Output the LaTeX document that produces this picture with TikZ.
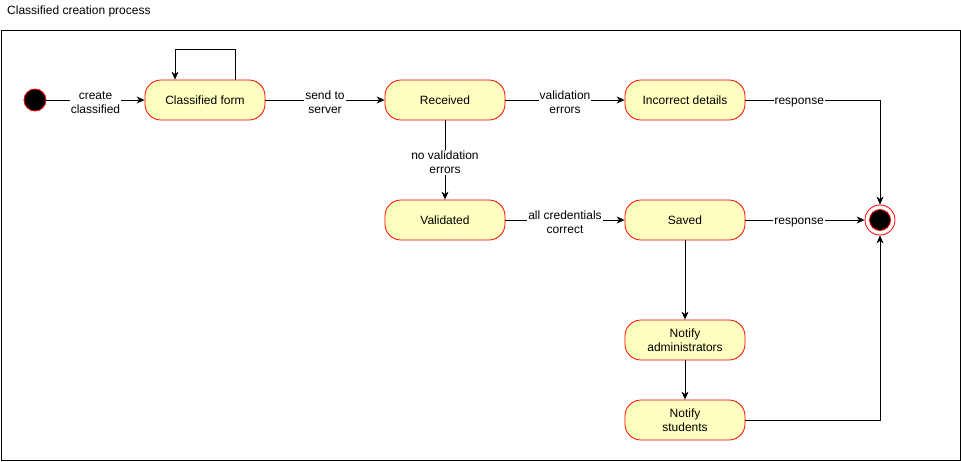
\documentclass[tikz,border=0pt]{standalone}
\usepackage{fontspec}
\setmainfont{Liberation Sans}
\usetikzlibrary{arrows.meta}
\definecolor{stfill}{HTML}{FFFFC0}
\definecolor{stline}{HTML}{FF0000}
\begin{document}
\begin{tikzpicture}[x=1pt,y=-1pt,
  state/.style={draw=stline,fill=stfill,rounded corners=16pt,minimum width=120pt,minimum height=40pt,
    inner sep=0pt,align=center,font=\fontsize{12}{14}\selectfont,line width=0.8pt},
  flow/.style={line width=0.8pt,-{Stealth[length=8pt,width=7pt,inset=2.5pt]}},
  lbl/.style={fill=white,inner sep=1pt,align=center,font=\fontsize{12}{14}\selectfont,yshift=-2.5pt}]
\useasboundingbox (0,0) rectangle (961,461);
% title and frame
\node[anchor=west,font=\fontsize{12}{14}\selectfont,inner sep=0pt] (title) at (7,11) {Classified creation process};
\draw[line width=0.8pt] (1,30) rectangle (960,460);
% start and end pseudo-states
\node[circle,draw=stline,fill=black,minimum size=22pt,inner sep=0pt,line width=0.8pt] (start) at (35,100) {};
\node[circle,draw=stline,fill=white,minimum size=30pt,inner sep=0pt,line width=0.8pt] (final) at (880,220) {};
\node[circle,draw=stline,fill=black,minimum size=21pt,inner sep=0pt,line width=0.8pt] (finalin) at (880,220) {};
% states
\node[state] (form) at (205,100) {Classified form};
\node[state] (recv) at (445,100) {Received};
\node[state] (incorrect) at (685,100) {Incorrect details};
\node[state] (valid) at (445,220) {Validated};
\node[state] (saved) at (685,220) {Saved};
\node[state] (admins) at (685,340) {Notify\\administrators};
\node[state] (students) at (685,420) {Notify\\students};
% transitions
\draw[flow] (start) -- node[lbl] {create\\classified} (form);
\draw[flow] ([xshift=30pt]form.north) |- ++(0,-30) -| ([xshift=-30pt]form.north);
\draw[flow] (form) -- node[lbl] {send to\\server} (recv);
\draw[flow] (recv) -- node[lbl] {validation\\errors} (incorrect);
\draw[flow] (recv) -- node[lbl,pos=0.5] {no validation\\errors} (valid);
\draw[flow] (valid) -- node[lbl] {all credentials\\correct} (saved);
\draw[flow] (incorrect.east) -- node[lbl,pos=0.4] {response} (880,100) -- (final.north);
\draw[flow] (saved) -- node[lbl,pos=0.45] {response} (final);
\draw[flow] (saved) -- (admins);
\draw[flow] (admins) -- (students);
\draw[flow] (students.east) -| (final.south);
\end{tikzpicture}
\end{document}
